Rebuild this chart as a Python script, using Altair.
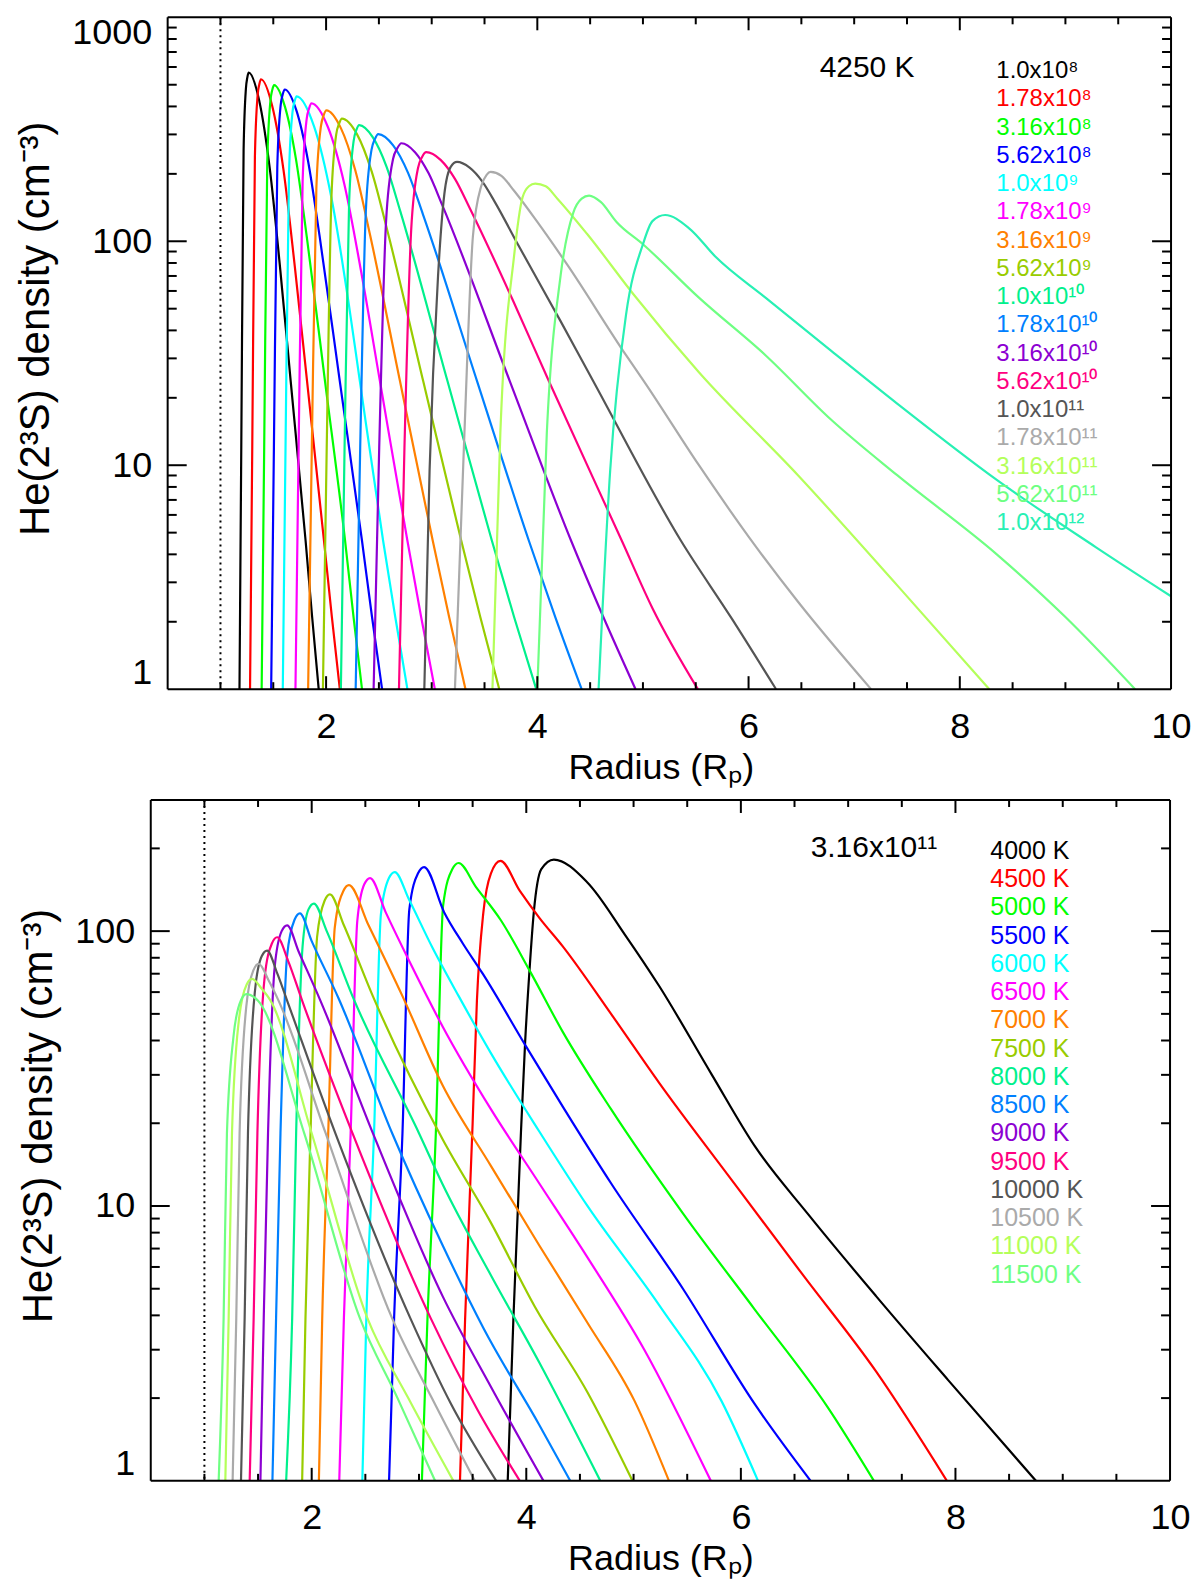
import altair as alt
import pandas as pd

FONT = "Liberation Sans"
Y_TITLE = "He(2³S) density (cm⁻³)"
X_TITLE = "Radius (Rₚ)"

# ---------------- top panel: 4250 K, different densities ----------------
TOP_NOTE = "4250 K"
TOP_LABELS = [
    "1.0x10⁸", "1.78x10⁸", "3.16x10⁸", "5.62x10⁸",
    "1.0x10⁹", "1.78x10⁹", "3.16x10⁹", "5.62x10⁹",
    "1.0x10¹⁰", "1.78x10¹⁰", "3.16x10¹⁰", "5.62x10¹⁰",
    "1.0x10¹¹", "1.78x10¹¹", "3.16x10¹¹", "5.62x10¹¹", "1.0x10¹²",
]
PALETTE = [
    "#000000", "#ff0000", "#00ff00", "#0000ff", "#00ffff", "#ff00ff",
    "#ff8000", "#99cc00", "#00f08c", "#0080ff", "#8c00d2", "#ff0080",
    "#555555", "#aaaaaa", "#b4ff5a", "#6eff82", "#28f0b4",
]

# (radius, density) pairs
t_1e8 = [(1.18, 1), (1.197, 12), (1.219, 255), (1.241, 481), (1.254, 538), (1.267, 566),
         (1.367, 424), (1.467, 211), (1.567, 74), (1.665, 23.7), (1.806, 4.6),
         (1.868, 2.1), (1.93, 1)]
t_178e8 = [(1.28, 1), (1.301, 12), (1.326, 238), (1.352, 450), (1.368, 503), (1.383, 529),
           (1.49, 402), (1.597, 208), (1.704, 77), (1.82, 23.7), (1.98, 4.6),
           (2.055, 2.1), (2.13, 1)]
t_316e8 = [(1.39, 1), (1.414, 12), (1.443, 224), (1.473, 423), (1.49, 473), (1.508, 498),
           (1.611, 398), (1.714, 234), (1.817, 105), (1.99, 23.7), (2.18, 4.6),
           (2.26, 2.1), (2.34, 1)]
t_562e8 = [(1.48, 1), (1.506, 12), (1.538, 214), (1.57, 405), (1.589, 452), (1.608, 476),
           (1.718, 385), (1.828, 230), (1.938, 106), (2.13, 23.7), (2.34, 4.6),
           (2.435, 2.1), (2.53, 1)]
t_1e9 = [(1.59, 1), (1.616, 12), (1.649, 200), (1.682, 377), (1.702, 422), (1.721, 444),
         (1.886, 326), (2.051, 156), (2.216, 52), (2.32, 23.7), (2.54, 4.6),
         (2.655, 2.1), (2.77, 1)]
t_178e9 = [(1.71, 1), (1.74, 12), (1.778, 186), (1.816, 351), (1.839, 392), (1.862, 413),
           (2.018, 323), (2.174, 179), (2.33, 74), (2.51, 23.7), (2.77, 4.6),
           (2.9, 2.1), (3.03, 1)]
t_316e9 = [(1.83, 1), (1.865, 12), (1.908, 173), (1.951, 326), (1.977, 365), (2.003, 384),
           (2.14, 320), (2.277, 207), (2.414, 108), (2.70, 23.7), (3.01, 4.6),
           (3.165, 2.1), (3.32, 1)]
t_562e9 = [(1.97, 1), (2.006, 12), (2.051, 159), (2.096, 300), (2.123, 335), (2.15, 353),
           (2.292, 301), (2.433, 204), (2.575, 114), (2.92, 23.7), (3.28, 4.6),
           (3.46, 2.1), (3.64, 1)]
t_1e10 = [(2.14, 1), (2.175, 12), (2.218, 149), (2.261, 281), (2.287, 314), (2.313, 330),
          (2.443, 291), (2.573, 215), (2.703, 136), (3.15, 23.7), (3.57, 4.6),
          (3.78, 2.1), (3.99, 1)]
t_178e10 = [(2.28, 1), (2.323, 12), (2.376, 135), (2.43, 256), (2.462, 286), (2.494, 301),
            (2.635, 268), (2.776, 202), (2.917, 132), (3.43, 23.7), (3.92, 4.6),
            (4.17, 2.1), (4.42, 1)]
t_316e10 = [(2.45, 1), (2.503, 12), (2.568, 123), (2.634, 233), (2.674, 260), (2.713, 274),
            (2.842, 250), (2.971, 201), (3.10, 145), (3.74, 23.7), (4.32, 4.6),
            (4.625, 2.1), (4.93, 1)]
t_562e10 = [(2.69, 1), (2.742, 12), (2.806, 113), (2.871, 213), (2.909, 238), (2.948, 250),
            (3.084, 231), (3.22, 190), (3.356, 142), (3.78, 53), (4.11, 23.7), (4.80, 4.6),
            (5.09, 2.3), (5.52, 1)]
t_1e11 = [(2.93, 1), (2.98, 9.5), (3.06, 70), (3.12, 163), (3.18, 215), (3.24, 226),
          (3.359, 213), (3.478, 185), (3.597, 150), (3.81, 98), (4.22, 44), (4.53, 23.7),
          (5.36, 4.6), (5.84, 2.07), (6.26, 1)]
t_178e11 = [(3.22, 1), (3.31, 14), (3.39, 105), (3.47, 177), (3.52, 198), (3.558, 204),
            (3.66, 196), (3.78, 168), (4.0, 122), (4.28, 79), (4.84, 31), (5.01, 23.7),
            (5.53, 10), (6.0, 4.8), (6.47, 2.45), (7.16, 1)]
t_316e11 = [(3.575, 1), (3.65, 14), (3.78, 86), (3.86, 157), (3.92, 176), (3.98, 181),
            (4.08, 176), (4.19, 155), (4.47, 108), (4.91, 58), (5.53, 26), (6.47, 9.0),
            (7.41, 2.9), (8.28, 1)]
t_562e11 = [(4.0, 1), (4.09, 14), (4.22, 70), (4.34, 134), (4.42, 155), (4.49, 160),
            (4.60, 150), (4.75, 122), (5.0, 97), (5.53, 56), (6.16, 31), (6.78, 16),
            (7.41, 9), (8.35, 4.0), (9.0, 2.1), (9.66, 1)]
t_1e12 = [(4.58, 1), (4.69, 9.5), (4.84, 47), (5.0, 97), (5.09, 123), (5.21, 131),
          (5.44, 114), (5.69, 85), (6.16, 56), (6.78, 32.5), (7.41, 18.8), (8.35, 8.6),
          (9.29, 4.3), (10.0, 2.6)]
TOP_CURVES = [t_1e8, t_178e8, t_316e8, t_562e8, t_1e9, t_178e9, t_316e9, t_562e9,
              t_1e10, t_178e10, t_316e10, t_562e10, t_1e11, t_178e11, t_316e11,
              t_562e11, t_1e12]

# ---------------- bottom panel: 3.16x10^11, different temperatures ----------------
BOT_NOTE = "3.16x10¹¹"
BOT_LABELS = [
    "4000 K", "4500 K", "5000 K", "5500 K", "6000 K", "6500 K", "7000 K", "7500 K",
    "8000 K", "8500 K", "9000 K", "9500 K", "10000 K", "10500 K", "11000 K", "11500 K",
]
b_4000 = [(3.827, 1), (3.88, 3.9), (3.95, 18.4), (3.99, 40), (4.03, 72), (4.07, 117),
          (4.14, 168), (4.257, 182), (4.565, 151), (4.92, 97), (5.24, 63), (5.73, 30),
          (6.13, 16.5), (6.63, 9.3), (7.26, 4.7), (7.93, 2.33), (8.75, 1)]
b_4500 = [(3.382, 1), (3.43, 3.9), (3.50, 20), (3.54, 56), (3.60, 117), (3.67, 162),
          (3.759, 180), (3.94, 140), (4.12, 112), (4.34, 88), (4.79, 50), (5.24, 28),
          (5.91, 12.5), (6.58, 5.6), (7.26, 2.5), (7.92, 1)]
b_5000 = [(3.027, 1), (3.079, 3.9), (3.157, 18.4), (3.225, 124), (3.31, 168), (3.369, 177),
          (3.53, 145), (3.76, 110), (4.03, 72), (4.34, 43), (4.79, 22.5), (5.46, 9.4),
          (6.13, 4.2), (6.81, 1.85), (7.24, 1)]
b_5500 = [(2.721, 1), (2.768, 3.9), (2.846, 18.4), (2.91, 120), (2.99, 162), (3.048, 171),
          (3.235, 117), (3.41, 90), (3.594, 70), (3.999, 38), (4.34, 23), (4.79, 12.1),
          (5.46, 5.0), (6.13, 1.9), (6.65, 1)]
b_6000 = [(2.472, 1), (2.509, 3.9), (2.581, 18.4), (2.645, 115), (2.72, 156), (2.774, 164),
          (2.908, 130), (3.126, 87), (3.37, 58), (3.67, 36), (4.12, 18.7), (4.57, 10),
          (5.24, 4.35), (5.82, 1.95), (6.16, 1)]
b_6500 = [(2.257, 1), (2.30, 3.9), (2.363, 18.4), (2.425, 109), (2.49, 148), (2.544, 156),
          (2.69, 117), (2.908, 78), (3.22, 45), (3.67, 22.5), (4.12, 12.1), (4.57, 6.5),
          (5.10, 3.0), (5.72, 1)]
b_7000 = [(2.067, 1), (2.098, 3.9), (2.154, 18.4), (2.215, 103), (2.295, 140), (2.347, 147),
          (2.53, 105), (2.846, 58), (3.22, 27.5), (3.67, 14), (4.12, 7.2), (4.57, 3.76),
          (5.01, 1.95), (5.33, 1)]
b_7500 = [(1.911, 1), (1.942, 3.9), (1.989, 18.4), (2.05, 95), (2.12, 129), (2.17, 136),
          (2.30, 105), (2.57, 58), (3.22, 17.5), (3.67, 8.7), (4.08, 4.3), (4.57, 2.1),
          (4.99, 1)]
b_8000 = [(1.762, 1), (1.818, 3.9), (1.855, 18.4), (1.915, 88), (1.97, 120), (2.02, 126),
          (2.14, 100), (2.38, 58), (3.0, 18.4), (3.22, 12), (3.67, 5.6), (4.12, 2.7),
          (4.69, 1)]
b_8500 = [(1.634, 1), (1.668, 3.9), (1.709, 18.4), (1.77, 81), (1.84, 110), (1.89, 116),
          (2.0, 92), (2.25, 57), (2.75, 18.4), (3.22, 7.2), (3.6, 3.6), (4.12, 1.6),
          (4.41, 1)]
b_9000 = [(1.522, 1), (1.553, 3.9), (1.593, 18.4), (1.655, 74), (1.72, 100), (1.771, 105),
          (1.88, 84), (2.08, 56), (2.57, 18.4), (3.22, 4.7), (3.67, 2.2), (4.16, 1)]
b_9500 = [(1.422, 1), (1.459, 3.9), (1.494, 18.4), (1.56, 67), (1.628, 90), (1.678, 95),
          (1.78, 78), (1.91, 56), (2.38, 18.4), (3.11, 3.9), (3.55, 1.8), (3.94, 1)]
b_10000 = [(1.341, 1), (1.375, 3.9), (1.406, 18.4), (1.47, 60), (1.534, 81), (1.584, 85),
           (1.68, 70), (1.77, 56), (2.22, 18.4), (2.92, 3.9), (3.3, 1.9), (3.72, 1)]
b_10500 = [(1.263, 1), (1.297, 3.9), (1.328, 18.4), (1.39, 53), (1.456, 72), (1.506, 76),
           (1.60, 66), (1.69, 56), (2.13, 18.4), (2.75, 3.9), (3.12, 2.0), (3.52, 1)]
b_11000 = [(1.195, 1), (1.226, 3.9), (1.257, 18.4), (1.32, 47), (1.394, 64), (1.444, 67),
           (1.53, 62), (1.615, 56), (2.0, 18.4), (2.52, 3.9), (2.9, 2.0), (3.32, 1)]
b_11500 = [(1.133, 1), (1.179, 3.9), (1.21, 18.4), (1.27, 41), (1.34, 56), (1.391, 59),
           (1.50, 55.8), (1.93, 18.4), (2.45, 3.9), (2.8, 2.0), (3.15, 1)]
BOT_CURVES = [b_4000, b_4500, b_5000, b_5500, b_6000, b_6500, b_7000, b_7500, b_8000,
              b_8500, b_9000, b_9500, b_10000, b_10500, b_11000, b_11500]

# axis values (IDL style frame: ticks inside on all four sides)
FRAME_X = [0.5, 10]
X_LABELS = [2, 4, 6, 8, 10]
X_MAJOR = [2, 4, 6, 8]
X_MINOR = [1.0, 1.5, 2.5, 3.0, 3.5, 4.5, 5.0, 5.5, 6.5, 7.0, 7.5, 8.5, 9.0, 9.5]
TOP_Y_LABELS = [1, 10, 100, 1000]
TOP_Y_MAJOR = [10, 100]
TOP_Y_MINOR = [2, 3, 4, 5, 6, 7, 8, 9, 20, 30, 40, 50, 60, 70, 80, 90,
               200, 300, 400, 500, 600, 700, 800, 900]
BOT_Y_LABELS = [1, 10, 100, 300]
BOT_Y_MAJOR = [10, 100]
BOT_Y_MINOR = [2, 3, 4, 5, 6, 7, 8, 9, 20, 30, 40, 50, 60, 70, 80, 90, 200]

X_AXIS = alt.Axis(values=X_LABELS, format="d", grid=False, ticks=False, tickSize=0,
                  domain=False, labelFlush=False, labelPadding=20, titlePadding=6,
                  labelFontSize=36, titleFontSize=36, labelFont=FONT, titleFont=FONT,
                  titleFontWeight="normal", labelColor="black", titleColor="black",
                  title=X_TITLE)


def curves_frame(labels, curves):
    rows = []
    for label, pts in zip(labels, curves):
        for i, (r, n) in enumerate(pts):
            rows.append({"label": label, "r": r, "n": n, "i": i})
    return pd.DataFrame(rows)


def frame_layers(xs, left, width, height, ys, y_major, y_minor):
    rule = dict(color="black", strokeWidth=2)
    layers = []
    # box
    edges = alt.Chart(pd.DataFrame({"r": FRAME_X})).mark_rule(**rule)
    layers.append(edges.encode(x=alt.X("r:Q", scale=xs, axis=X_AXIS)))
    span = alt.Chart(pd.DataFrame({"r": [FRAME_X[0]], "r2": [FRAME_X[1]]})).mark_rule(**rule)
    for yv in (0, height):
        layers.append(span.encode(x=alt.X("r:Q", scale=xs, axis=X_AXIS), x2="r2:Q",
                                  y=alt.value(yv)))
    # y ticks on both sides
    for vals, size in ((y_major, 19), (y_minor, 9)):
        base = alt.Chart(pd.DataFrame({"v": vals})).mark_rule(**rule)
        y = alt.Y("v:Q", scale=ys, axis=None)
        layers.append(base.encode(y=y, x=alt.value(left), x2=alt.value(left + size)))
        layers.append(base.encode(y=y, x=alt.value(width), x2=alt.value(width - size)))
    # x ticks on both sides
    for vals, size in ((X_MAJOR, 13), (X_MINOR, 7)):
        base = alt.Chart(pd.DataFrame({"r": vals})).mark_rule(**rule)
        x = alt.X("r:Q", scale=xs, axis=X_AXIS)
        layers.append(base.encode(x=x, y=alt.value(height), y2=alt.value(height - size)))
        layers.append(base.encode(x=x, y=alt.value(0), y2=alt.value(size)))
    return layers


def panel(labels, colors, curves, x_min, left, y_max, y_labels, y_major, y_minor, note,
          note_x, leg_x, leg_y0, leg_font, width, height):
    xs = alt.Scale(domain=[x_min, 10], nice=False, zero=False)
    ys = alt.Scale(type="log", domain=[1, y_max], nice=False)
    cs = alt.Scale(domain=labels, range=colors)

    legend = alt.Chart(pd.DataFrame({"label": labels})).mark_text(
        align="left", baseline="middle", fontSize=leg_font, font=FONT
    ).encode(
        x=alt.value(leg_x),
        y=alt.Y("label:N", axis=None,
                scale=alt.Scale(type="point", domain=labels, padding=0,
                                range=[leg_y0, leg_y0 + 28.3 * (len(labels) - 1)])),
        text="label:N",
        color=alt.Color("label:N", scale=cs, legend=None),
    )
    note_text = alt.Chart(pd.DataFrame({"t": [note]})).mark_text(
        align="left", baseline="middle", fontSize=30, font=FONT, color="black"
    ).encode(x=alt.value(note_x), y=alt.value(leg_y0 - 3), text="t:N")

    y_axis = alt.Axis(values=y_labels, format="d", grid=False, ticks=False, tickSize=0,
                      domain=False, labelPadding=16, titlePadding=14, offset=-left,
                      labelFlush=True, labelFlushOffset=2, titleY=height / 2 - 25,
                      labelExpr=f"datum.value == {y_max} && {y_max} != 1000 ? '' : datum.label",
                      labelFontSize=36, titleFontSize=42, labelFont=FONT, titleFont=FONT,
                      titleFontWeight="normal", labelColor="black", titleColor="black")
    lines = alt.Chart(curves_frame(labels, curves)).mark_line(
        strokeWidth=2.2, interpolate="monotone", clip=True
    ).encode(
        x=alt.X("r:Q", scale=xs, axis=X_AXIS),
        y=alt.Y("n:Q", scale=ys, title=Y_TITLE, axis=y_axis),
        color=alt.Color("label:N", scale=cs, legend=None),
        order="i:Q",
    )
    dotted = alt.Chart(pd.DataFrame({"r": [1.0]})).mark_rule(
        color="black", strokeWidth=2, strokeDash=[2, 4]
    ).encode(x=alt.X("r:Q", scale=xs, axis=X_AXIS))

    box = frame_layers(xs, left, width, height, ys, y_major, y_minor)
    return alt.layer(lines, legend, note_text, dotted, *box).resolve_scale(
        y="independent"
    ).properties(width=width, height=height)


# the top frame sits 17 px right of the bottom one, as in the original figure
top = panel(TOP_LABELS, PALETTE, TOP_CURVES, 0.34, 17, 1000, TOP_Y_LABELS, TOP_Y_MAJOR,
            TOP_Y_MINOR, TOP_NOTE, 670, 847, 54, 24, 1022, 673)
bottom = panel(BOT_LABELS, PALETTE[:16], BOT_CURVES, 0.5, 0, 300, BOT_Y_LABELS,
               BOT_Y_MAJOR, BOT_Y_MINOR, BOT_NOTE, 661, 841, 51, 25, 1021, 682)

chart = alt.concat(top, bottom, columns=1, spacing=14).resolve_scale(
    x="independent", y="independent", color="independent"
).properties(
    padding={"left": 6, "top": 5, "right": 0, "bottom": 5}
).configure(
    background="white"
).configure_view(
    strokeWidth=0
)

chart.save("out.html", embed_options={"renderer": "svg", "actions": False})
